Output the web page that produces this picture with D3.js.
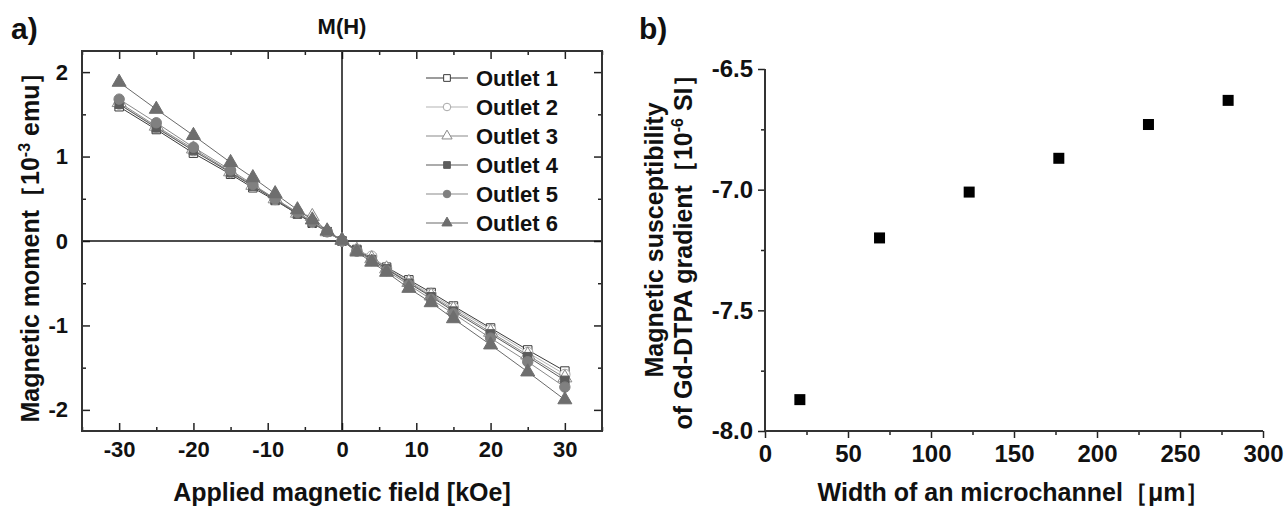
<!DOCTYPE html>
<html>
<head>
<meta charset="utf-8">
<script src="https://cdn.jsdelivr.net/npm/d3@7"></script>
<style>
  body { margin: 0; background: #fff; }
  svg text { font-family: "Liberation Sans", Arial, sans-serif; font-weight: bold; fill: #111; }
</style>
</head>
<body>
<div id="chart"></div>
<script>
const width = 1288;
const height = 510;

// panel a: M(H) curves for the six outlets
const fieldKOe = [-30, -25, -20, -15, -12, -9, -6, -4, -2, 0, 2, 4, 6, 9, 12, 15, 20, 25, 30];
const outlet1 = [1.59, 1.32, 1.04, 0.79, 0.63, 0.48, 0.32, 0.21, 0.11, 0.00, -0.10, -0.20, -0.31, -0.46, -0.61, -0.77, -1.03, -1.29, -1.54];
const outlet2 = [1.62, 1.35, 1.07, 0.81, 0.65, 0.49, 0.33, 0.22, 0.11, 0.00, -0.11, -0.18, -0.32, -0.48, -0.63, -0.79, -1.05, -1.32, -1.58];
const outlet3 = [1.64, 1.36, 1.09, 0.82, 0.66, 0.50, 0.33, 0.29, 0.11, 0.01, -0.11, -0.21, -0.33, -0.49, -0.65, -0.81, -1.08, -1.35, -1.62];
const outlet4 = [1.62, 1.34, 1.07, 0.81, 0.65, 0.49, 0.32, 0.22, 0.11, 0.00, -0.11, -0.22, -0.33, -0.50, -0.66, -0.83, -1.10, -1.37, -1.65];
const outlet5 = [1.68, 1.40, 1.11, 0.84, 0.67, 0.50, 0.34, 0.23, 0.11, 0.00, -0.12, -0.23, -0.35, -0.52, -0.69, -0.86, -1.15, -1.43, -1.73];
const outlet6 = [1.88, 1.56, 1.25, 0.93, 0.75, 0.56, 0.37, 0.25, 0.12, 0.01, -0.13, -0.25, -0.37, -0.56, -0.73, -0.92, -1.23, -1.55, -1.88];
const outletNames = ["Outlet 1", "Outlet 2", "Outlet 3", "Outlet 4", "Outlet 5", "Outlet 6"];
const fieldTicks = [-30, -20, -10, 0, 10, 20, 30];
const momentTicks = [-2, -1, 0, 1, 2];

// panel b: susceptibility vs channel width
const widthUm = [21, 69, 123, 177, 231, 279];
const susceptibility = [-7.87, -7.20, -7.01, -6.87, -6.73, -6.63];
const widthTicks = [0, 50, 100, 150, 200, 250, 300];
const suscTicks = [-8.0, -7.5, -7.0, -6.5];

const svg = d3.select("#chart").append("svg")
    .attr("width", width).attr("height", height);

// ---------- panel a ----------
const ax = { left: 82, right: 602, top: 51, bottom: 431 };
const x = d3.scaleLinear().domain([-35, 35]).range([ax.left, ax.right]);
const y = d3.scaleLinear().domain([-2.25, 2.25]).range([ax.bottom, ax.top]);

const ga = svg.append("g");

function tickAxis(g, axis, tx, ty, fs) {
  const a = g.append("g").attr("transform", `translate(${tx},${ty})`).call(axis);
  a.select(".domain").remove();
  a.selectAll("line").attr("stroke", "#222").attr("stroke-width", 1.5);
  a.selectAll("text").attr("fill", "#111").style("font-size", (fs || 22) + "px")
    .style("font-family", '"Liberation Sans", Arial, sans-serif').style("font-weight", "bold");
  return a;
}

const xMinor = d3.range(-35, 36, 5).filter(v => v % 10 !== 0);
const yMinor = [-1.5, -0.5, 0.5, 1.5];
const plain = d => String(d);

// bottom
tickAxis(ga, d3.axisBottom(x).tickValues(fieldTicks).tickSizeInner(-8).tickSizeOuter(0).tickPadding(10).tickFormat(plain), 0, ax.bottom);
tickAxis(ga, d3.axisBottom(x).tickValues(xMinor).tickSizeInner(-4).tickSizeOuter(0).tickFormat(""), 0, ax.bottom);
// top (mirror)
tickAxis(ga, d3.axisTop(x).tickValues(fieldTicks).tickSizeInner(-8).tickSizeOuter(0).tickFormat(""), 0, ax.top);
tickAxis(ga, d3.axisTop(x).tickValues(xMinor).tickSizeInner(-4).tickSizeOuter(0).tickFormat(""), 0, ax.top);
// left
tickAxis(ga, d3.axisLeft(y).tickValues(momentTicks).tickSizeInner(-8).tickSizeOuter(0).tickPadding(14).tickFormat(plain), ax.left, 0);
tickAxis(ga, d3.axisLeft(y).tickValues(yMinor).tickSizeInner(-4).tickSizeOuter(0).tickFormat(""), ax.left, 0);
// right (mirror)
tickAxis(ga, d3.axisRight(y).tickValues(momentTicks).tickSizeInner(-8).tickSizeOuter(0).tickFormat(""), ax.right, 0);
tickAxis(ga, d3.axisRight(y).tickValues(yMinor).tickSizeInner(-4).tickSizeOuter(0).tickFormat(""), ax.right, 0);

// zero lines
ga.append("line").attr("x1", ax.left).attr("x2", ax.right).attr("y1", y(0)).attr("y2", y(0))
  .attr("stroke", "#111").attr("stroke-width", 1.5);
ga.append("line").attr("x1", x(0)).attr("x2", x(0)).attr("y1", ax.top).attr("y2", ax.bottom)
  .attr("stroke", "#111").attr("stroke-width", 1.5);

// frame
ga.append("rect").attr("x", ax.left).attr("y", ax.top)
  .attr("width", ax.right - ax.left).attr("height", ax.bottom - ax.top)
  .attr("fill", "none").attr("stroke", "#333").attr("stroke-width", 2);

const seriesStyle = [
  { line: "#3a3a3a", shape: d3.symbolSquare, fill: "#fff", stroke: "#3a3a3a" },
  { line: "#b4b4b4", shape: d3.symbolCircle, fill: "#fff", stroke: "#a8a8a8" },
  { line: "#8a8a8a", shape: d3.symbolTriangle, fill: "#fff", stroke: "#8a8a8a" },
  { line: "#5a5a5a", shape: d3.symbolSquare, fill: "#5c5c5c", stroke: "#5c5c5c" },
  { line: "#8a8a8a", shape: d3.symbolCircle, fill: "#808080", stroke: "#808080" },
  { line: "#6a6a6a", shape: d3.symbolTriangle, fill: "#6e6e6e", stroke: "#6e6e6e" }
];
const outlets = [outlet1, outlet2, outlet3, outlet4, outlet5, outlet6];

const line = d3.line().x(d => x(d[0])).y(d => y(d[1]));

outlets.forEach((vals, i) => {
  const st = seriesStyle[i];
  const pts = fieldKOe.map((f, j) => [f, vals[j]]);
  ga.append("path").datum(pts).attr("d", line)
    .attr("fill", "none").attr("stroke", st.line).attr("stroke-width", 1);
  ga.append("g").selectAll("path").data(pts).enter().append("path")
    .attr("transform", d => `translate(${x(d[0])},${y(d[1])})`)
    .attr("d", d3.symbol().type(st.shape).size(st.shape === d3.symbolSquare ? 72 : 85))
    .attr("fill", st.fill).attr("stroke", st.stroke).attr("stroke-width", 1);
});

// legend
const leg = ga.append("g");
outletNames.forEach((name, i) => {
  const st = seriesStyle[i];
  const ly = 78 + i * 29;
  leg.append("line").attr("x1", 426).attr("x2", 468).attr("y1", ly).attr("y2", ly)
    .attr("stroke", st.line).attr("stroke-width", 1.2);
  leg.append("path").attr("transform", `translate(447,${ly})`)
    .attr("d", d3.symbol().type(st.shape).size(45))
    .attr("fill", st.fill).attr("stroke", st.stroke).attr("stroke-width", 1);
  leg.append("text").attr("x", 476).attr("y", ly + 8).style("font-size", "22px").text(name);
});

// titles
svg.append("text").attr("x", 11).attr("y", 39).style("font-size", "30px").text("a)");
svg.append("text").attr("x", x(0)).attr("y", 34).attr("text-anchor", "middle").style("font-size", "22px").text("M(H)");
svg.append("text").attr("x", x(0)).attr("y", 501).attr("text-anchor", "middle").style("font-size", "25px")
  .text("Applied magnetic field [kOe]");
const yt = svg.append("text").attr("transform", "rotate(-90)").attr("x", -241).attr("y", 39)
  .attr("text-anchor", "middle").style("font-size", "25px");
yt.append("tspan").text("Magnetic moment［10");
yt.append("tspan").attr("dy", -9).style("font-size", "16px").text("-3");
yt.append("tspan").attr("dy", 9).text(" emu］");

// ---------- panel b ----------
const bx = { left: 765, right: 1263, top: 69, bottom: 431 };
const xb = d3.scaleLinear().domain([0, 300]).range([bx.left, bx.right]);
const yb = d3.scaleLinear().domain([-8.0, -6.5]).range([bx.bottom, bx.top]);

const gb = svg.append("g");
tickAxis(gb, d3.axisBottom(xb).tickValues(widthTicks).tickSizeInner(7).tickSizeOuter(0).tickPadding(7).tickFormat(plain), 0, bx.bottom, 24);
tickAxis(gb, d3.axisBottom(xb).tickValues(d3.range(25, 300, 50)).tickSizeInner(4).tickSizeOuter(0).tickFormat(""), 0, bx.bottom);
tickAxis(gb, d3.axisLeft(yb).tickValues(suscTicks).tickSizeInner(7).tickSizeOuter(0).tickPadding(5).tickFormat(d => d.toFixed(1)), bx.left, 0, 24);
tickAxis(gb, d3.axisLeft(yb).tickValues([-7.75, -7.25, -6.75]).tickSizeInner(4).tickSizeOuter(0).tickFormat(""), bx.left, 0);

gb.append("line").attr("x1", bx.left).attr("x2", bx.right).attr("y1", bx.bottom).attr("y2", bx.bottom)
  .attr("stroke", "#333").attr("stroke-width", 2);
gb.append("line").attr("x1", bx.left).attr("x2", bx.left).attr("y1", yb(-6.5)).attr("y2", bx.bottom)
  .attr("stroke", "#333").attr("stroke-width", 2);

gb.selectAll("rect.pt").data(widthUm.map((w, i) => [w, susceptibility[i]])).enter().append("rect")
  .attr("class", "pt")
  .attr("x", d => xb(d[0]) - 5.5).attr("y", d => yb(d[1]) - 5.5)
  .attr("width", 11).attr("height", 11).attr("fill", "#000");

svg.append("text").attr("x", 639).attr("y", 39).style("font-size", "30px").text("b)");
svg.append("text").attr("x", xb(150)).attr("y", 501).attr("text-anchor", "middle").style("font-size", "25px")
  .text("Width of an microchannel［μm］");
svg.append("text").attr("transform", "rotate(-90)").attr("x", -240).attr("y", 663)
  .attr("text-anchor", "middle").style("font-size", "25px").text("Magnetic susceptibility");
const yt2 = svg.append("text").attr("transform", "rotate(-90)").attr("x", -246).attr("y", 692)
  .attr("text-anchor", "middle").style("font-size", "25px");
yt2.append("tspan").text("of Gd-DTPA gradient［10");
yt2.append("tspan").attr("dy", -9).style("font-size", "16px").text("-6");
yt2.append("tspan").attr("dy", 9).text(" SI］");
</script>
</body>
</html>
